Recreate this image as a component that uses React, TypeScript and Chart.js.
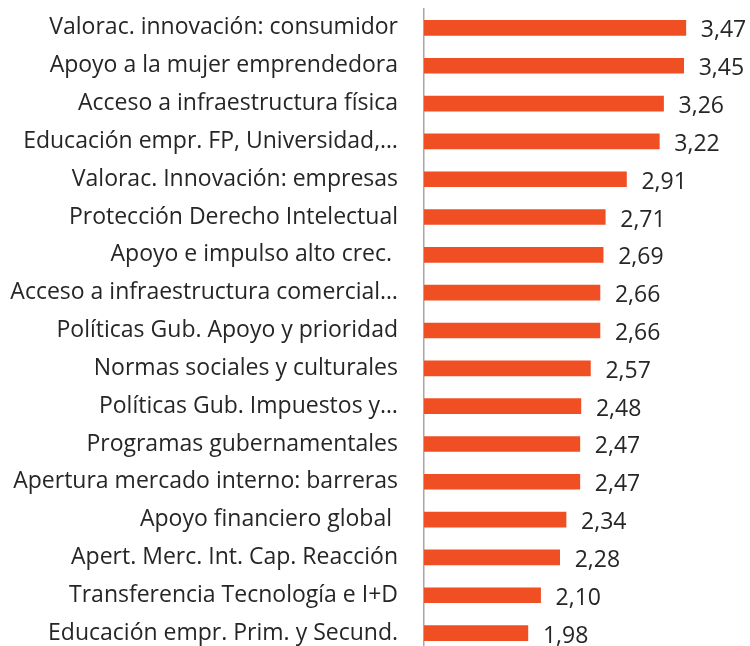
import React, { useEffect, useRef } from "react";
import { Chart, registerables } from "chart.js";

Chart.register(...registerables);

const categories: string[] = [
  "Valorac. innovación: consumidor",
  "Apoyo a la mujer emprendedora",
  "Acceso a infraestructura física",
  "Educación empr. FP, Universidad,…",
  "Valorac. Innovación: empresas",
  "Protección Derecho Intelectual",
  "Apoyo e impulso alto crec. ",
  "Acceso a infraestructura comercial…",
  "Políticas Gub. Apoyo y prioridad",
  "Normas sociales y culturales",
  "Políticas Gub. Impuestos y…",
  "Programas gubernamentales",
  "Apertura mercado interno: barreras",
  "Apoyo financiero global ",
  "Apert. Merc. Int. Cap. Reacción",
  "Transferencia Tecnología e I+D",
  "Educación empr. Prim. y Secund.",
];

const values: number[] = [
  3.47, 3.45, 3.26, 3.22, 2.91, 2.71, 2.69, 2.66, 2.66, 2.57, 2.48, 2.47, 2.47,
  2.34, 2.28, 2.1, 1.98,
];

const axisMin = 1;
const axisMax = 4;

const FONT = "'Open Sans'";
const FONT_SIZE = 23;
const TEXT = "#262626";
const BAR = "rgb(240,79,35)";

const valueLabels = {
  id: "valueLabels",
  afterDatasetsDraw(chart: any) {
    const ctx = chart.ctx;
    const meta = chart.getDatasetMeta(0);
    ctx.save();
    ctx.font = `${FONT_SIZE}px ${FONT}`;
    ctx.fillStyle = TEXT;
    ctx.textAlign = "left";
    ctx.textBaseline = "alphabetic";
    meta.data.forEach((bar: any, i: number) => {
      const v = values[i];
      const txt = v.toFixed(2).replace(".", ",");
      ctx.fillText(txt, bar.x + 15, bar.y + 9.5);
    });
    ctx.restore();
  },
};

export default function App() {
  const ref = useRef<HTMLCanvasElement | null>(null);
  useEffect(() => {
    if (!ref.current) return;
    const chart = new Chart(ref.current, {
      type: "bar",
      data: {
        labels: categories,
        datasets: [
          {
            data: values,
            backgroundColor: BAR,
            borderWidth: 0,
            barThickness: 15,
          },
        ],
      },
      options: {
        indexAxis: "y",
        responsive: false,
        animation: false,
        layout: { padding: { top: 9, right: 8, bottom: 0, left: 0 } },
        plugins: {
          legend: { display: false },
          tooltip: { enabled: false },
        },
        scales: {
          x: {
            display: false,
            min: axisMin,
            max: axisMax,
          },
          y: {
            afterFit: (scale: any) => {
              scale.width = 424;
              scale.paddingTop = 0;
              scale.paddingBottom = 0;
            },
            grid: { drawOnChartArea: false, drawTicks: false },
            border: { display: true, color: "#A6A6A6", width: 1.5 },
            ticks: {
              padding: 26,
              color: TEXT,
              font: { family: FONT, size: FONT_SIZE },
              autoSkip: false,
            },
          },
        },
      },
      plugins: [valueLabels],
    });
    return () => chart.destroy();
  }, []);
  return (
    <div style={{ position: "fixed", left: 0, top: 0, width: 750, height: 652, background: "#fff" }}>
      <canvas ref={ref} width={750} height={652} style={{ width: 750, height: 652, display: "block" }} />
    </div>
  );
}
